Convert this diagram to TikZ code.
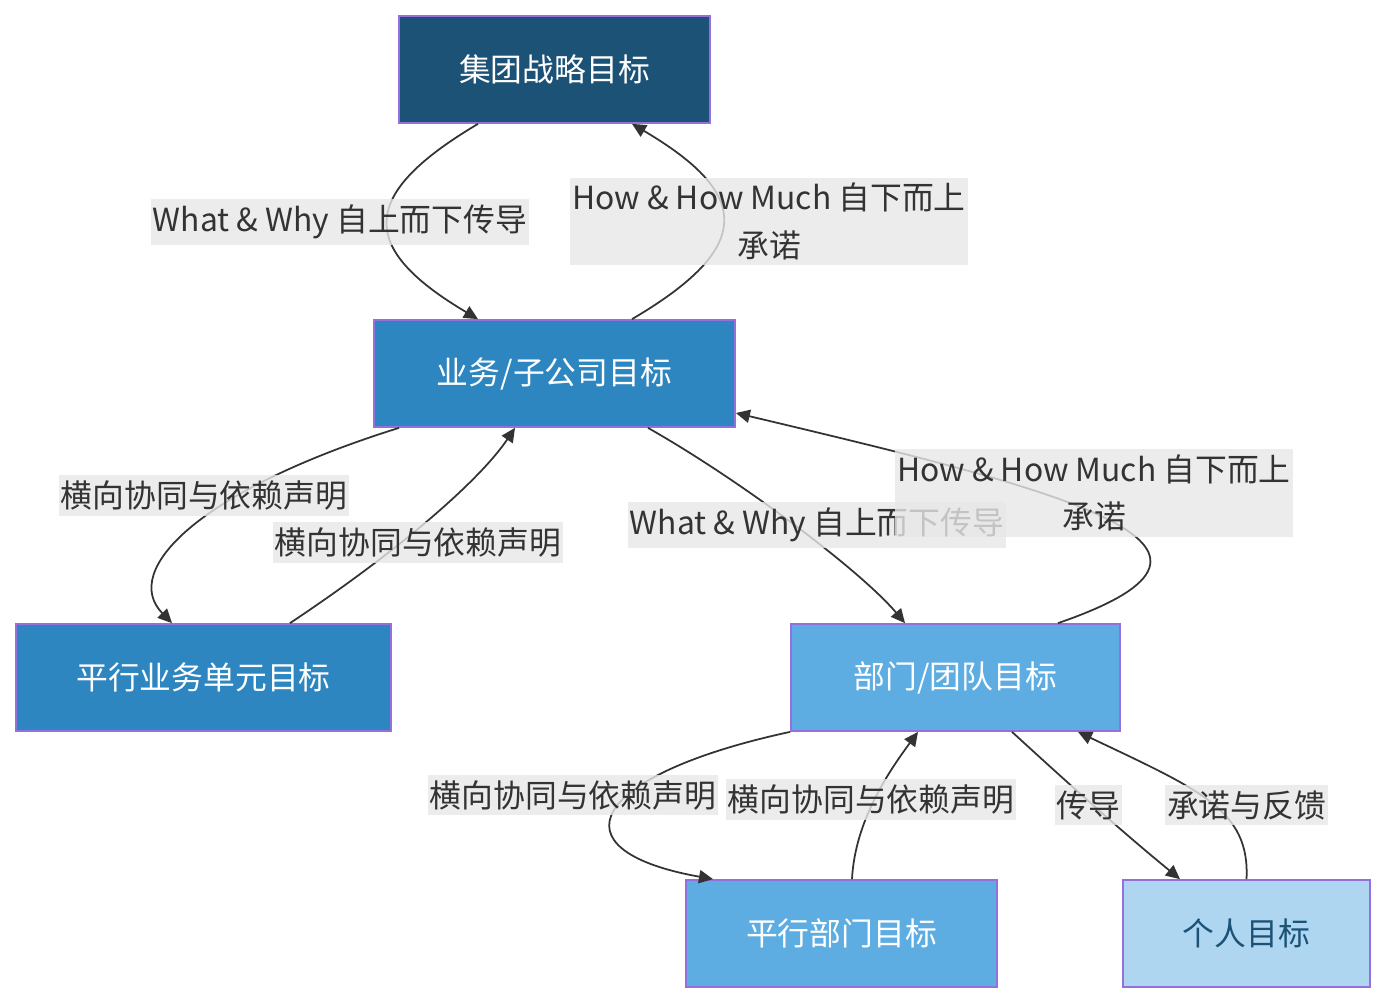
\documentclass[tikz,border=0pt]{standalone}
\usepackage{fontspec}
\setmainfont{Noto Sans CJK SC}
\usetikzlibrary{arrows.meta}
\definecolor{ink}{HTML}{333333}
\definecolor{lvla}{HTML}{1B5276}
\definecolor{lvlb}{HTML}{2E86C1}
\definecolor{lvlc}{HTML}{5DADE2}
\definecolor{lvld}{HTML}{AED6F1}
\definecolor{goalbd}{HTML}{9370DB}
\definecolor{lblbg}{HTML}{E8E8E8}
\begin{document}
\begin{tikzpicture}[x=0.02cm, y=-0.02cm,
  font=\fontsize{18.1}{27}\selectfont, >={Triangle[length=8pt,width=7.5pt]},
  goal/.style={draw=goalbd, line width=1pt, minimum height=2.14cm, text=white, inner sep=0pt},
  flow/.style={->, draw=ink, line width=1pt},
  lbl/.style={fill=lblbg, fill opacity=0.8, text opacity=1, text=ink, inner xsep=0.04cm, inner ysep=0.11cm, align=center}]
\fill[white] (0,0) rectangle (1386,1004);
\useasboundingbox (0,0) rectangle (1386,1004);
% ---------------- goals
\node[goal, fill=lvla, minimum width=6.22cm] (grp) at (554.5,69.5) {集团战略目标};
\node[goal, fill=lvlb, minimum width=7.22cm] (biz) at (554.5,373.5) {业务/子公司目标};
\node[goal, fill=lvlb, minimum width=7.5cm] (pbiz) at (203.5,677.5) {平行业务单元目标};
\node[goal, fill=lvlc, minimum width=6.58cm] (dept) at (955.5,677.5) {部门/团队目标};
\node[goal, fill=lvlc, minimum width=6.22cm] (pdept) at (841.5,933.5) {平行部门目标};
\node[goal, fill=lvld, text=lvla, minimum width=4.94cm] (me) at (1246.5,933.5) {个人目标};
% ---------------- connectors
\draw[flow] ([xshift=-1.53cm]grp.south) .. controls (358,195) and (358,248) .. ([xshift=-1.53cm]biz.north);
\draw[flow] ([xshift=1.55cm]biz.north) .. controls (753,248) and (753,195) .. ([xshift=1.55cm]grp.south);
\draw[flow] ([xshift=-3.11cm]biz.south) .. controls (200,490) and (120,570) .. ([xshift=-0.63cm]pbiz.north);
\draw[flow] ([xshift=1.73cm]pbiz.north) .. controls (400,550) and (480,480) .. ([xshift=-0.79cm]biz.south);
\draw[flow] ([xshift=1.87cm]biz.south) .. controls (740,480) and (860,570) .. ([xshift=-1.01cm]dept.north);
\draw[flow] ([xshift=2.05cm]dept.north) .. controls (1285,545) and (1060,490) .. ([yshift=-0.79cm]biz.east);
\draw[flow] (dept.south west) .. controls (590,775) and (550,850) .. ([xshift=-2.57cm]pdept.north);
\draw[flow] ([xshift=0.21cm]pdept.north) .. controls (855,820) and (890,770) .. ([xshift=-0.75cm]dept.south);
\draw[flow] ([xshift=1.13cm]dept.south) .. controls (1070,785) and (1120,830) .. ([xshift=-1.33cm]me.north);
\draw[flow] (me.north) .. controls (1250,810) and (1200,790) .. ([xshift=2.45cm]dept.south);
% ---------------- labels
\node[lbl] (l1) at (340,222) {What \& Why 自上而下传导};
\node[lbl] (l2) at (769,221.5) {How \& How Much 自下而上\\承诺};
\node[lbl] (l3) at (204,495.5) {横向协同与依赖声明};
\node[lbl] (l4) at (418,542.5) {横向协同与依赖声明};
\node[lbl] (l5) at (817,525) {What \& Why 自上而下传导};
\node[lbl] (l6) at (1094,493) {How \& How Much 自下而上\\承诺};
\node[lbl] (l7) at (573,795) {横向协同与依赖声明};
\node[lbl] (l8) at (871,799.5) {横向协同与依赖声明};
\node[lbl] (l9) at (1088.5,805) {传导};
\node[lbl] (l10) at (1246.5,805) {承诺与反馈};
\end{tikzpicture}
\end{document}
